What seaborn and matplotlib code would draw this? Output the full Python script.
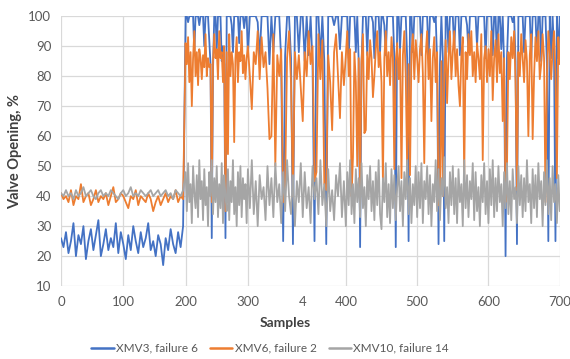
import matplotlib
matplotlib.use("Agg")
import matplotlib.pyplot as plt
from matplotlib.colors import to_hex
import numpy as np
import pandas as pd
import seaborn as sns

# sample index: every 4th sample before the fault, every 2nd after it
samples_pre = np.arange(0, 200, 4)
samples_post = np.arange(200, 701, 2)

series_names = ["XMV3, failure 6", "XMV6, failure 2", "XMV10, failure 14"]
colors = ["#4472C4", "#ED7D31", "#A5A5A5"]

# samples 0..196
blue_pre = [26, 23, 28, 21, 25, 31, 20, 27, 24, 30,
            19, 25, 29, 22, 27, 32, 20, 24, 29, 22,
            26, 23, 31, 21, 28, 24, 19, 27, 22, 30,
            25, 21, 28, 23, 26, 31, 22, 25, 20, 27,
            24, 17, 26, 22, 29, 24, 21, 28, 23, 30]
orange_pre = [41, 39, 40, 38, 42, 37, 40, 39, 44, 38,
              40, 41, 37, 39, 42, 38, 40, 39, 41, 37,
              40, 43, 38, 39, 41, 40, 38, 36, 40, 39,
              42, 37, 40, 39, 38, 41, 39, 35, 38, 40,
              37, 39, 41, 38, 40, 39, 42, 38, 40, 39]
gray_pre = [41, 40, 42, 40, 41, 39, 42, 40, 41, 43,
            40, 41, 42, 40, 39, 41, 42, 40, 41, 40,
            42, 41, 40, 39, 41, 42, 40, 41, 43, 40,
            41, 40, 42, 41, 40, 41, 42, 40, 41, 42,
            40, 41, 42, 40, 41, 39, 42, 41, 40, 42]

# samples 200..700, one row = 50 samples
blue_post = [
    100, 100, 98, 100, 100, 100, 100, 88, 100, 100, 100, 97, 100, 100, 100, 90, 100, 100, 100, 92, 84, 26, 82, 100, 100,
    89, 100, 100, 100, 85, 90, 84, 26, 100, 100, 100, 100, 97, 88, 100, 100, 100, 100, 91, 100, 100, 100, 96, 100, 100,
    87, 100, 100, 100, 100, 98, 86, 100, 100, 100, 100, 84, 100, 88, 100, 100, 100, 85, 25, 87, 100, 100, 86, 24, 100,
    100, 88, 100, 100, 85, 100, 87, 100, 84, 25, 100, 100, 86, 100, 85, 24, 100, 100, 100, 97, 100, 100, 89, 100, 100,
    100, 100, 86, 100, 100, 100, 100, 88, 100, 85, 23, 84, 100, 100, 100, 87, 100, 100, 100, 98, 86, 100, 100, 100, 88,
    100, 100, 97, 87, 100, 100, 100, 100, 100, 86, 23, 100, 100, 89, 100, 100, 100, 100, 86, 25, 100, 100, 88, 100, 100,
    100, 100, 100, 87, 100, 100, 100, 100, 86, 100, 100, 100, 98, 100, 85, 24, 84, 100, 86, 25, 100, 100, 88, 100, 100,
    100, 89, 100, 100, 100, 87, 100, 100, 100, 100, 97, 88, 100, 100, 100, 100, 100, 90, 100, 100, 100, 100, 100, 86, 100,
    100, 100, 100, 87, 100, 100, 85, 100, 100, 89, 100, 84, 20, 86, 100, 100, 100, 98, 100, 85, 24, 100, 100, 100, 100,
    88, 100, 100, 100, 100, 86, 100, 100, 100, 87, 100, 100, 85, 100, 100, 100, 84, 25, 100, 86, 100, 88, 25, 100, 86,
    100]
orange_post = [
    91, 84, 93, 78, 88, 70, 86, 95, 80, 88, 77, 89, 86, 79, 87, 83, 94, 80, 86, 83, 84, 38, 85, 94, 86,
    89, 79, 95, 86, 88, 78, 90, 35, 88, 54, 94, 80, 88, 84, 58, 86, 93, 78, 88, 85, 95, 81, 87, 79, 86,
    90, 80, 69, 88, 84, 95, 79, 93, 83, 88, 76, 59, 60, 94, 50, 87, 80, 89, 38, 44, 86, 95, 78, 40, 88,
    79, 87, 76, 65, 88, 80, 95, 84, 90, 45, 48, 94, 79, 92, 44, 42, 87, 78, 62, 88, 94, 80, 66, 88, 77,
    87, 95, 80, 89, 40, 53, 88, 78, 50, 86, 42, 85, 94, 61, 62, 88, 79, 92, 86, 73, 80, 89, 95, 83, 88,
    78, 45, 86, 95, 80, 88, 77, 93, 86, 49, 85, 91, 79, 89, 46, 87, 95, 80, 49, 84, 47, 88, 94, 79, 92,
    86, 78, 89, 94, 81, 51, 87, 95, 79, 89, 65, 86, 93, 78, 88, 37, 42, 85, 40, 80, 92, 71, 86, 95, 79,
    88, 95, 80, 89, 77, 70, 87, 93, 46, 88, 79, 94, 87, 95, 80, 88, 78, 91, 86, 79, 94, 52, 86, 90, 78,
    89, 80, 95, 72, 86, 92, 78, 94, 81, 88, 65, 86, 38, 49, 88, 79, 93, 86, 95, 78, 42, 88, 80, 94, 86,
    78, 92, 85, 60, 87, 94, 59, 80, 93, 85, 95, 79, 84, 94, 86, 38, 80, 95, 88, 79, 89, 95, 81, 46, 93,
    84]
gray_post = [
    48, 35, 51, 38, 44, 31, 50, 41, 36, 47, 33, 52, 39, 45, 32, 49, 37, 43, 30, 48, 40, 52, 34, 46, 38,
    50, 33, 44, 36, 51, 31, 47, 40, 35, 49, 32, 45, 38, 52, 34, 43, 30, 48, 37, 50, 33, 46, 39, 44, 31,
    49, 36, 52, 34, 45, 30, 47, 39, 43, 32, 50, 37, 46, 33, 51, 38, 44, 31, 48, 35, 52, 40, 34, 47, 30,
    45, 38, 51, 33, 48, 36, 43, 31, 50, 39, 46, 34, 52, 37, 44, 30, 49, 35, 42, 32, 47, 40, 51, 33, 45,
    30, 48, 37, 52, 34, 44, 31, 49, 38, 46, 33, 51, 36, 43, 30, 47, 39, 50, 35, 45, 32, 48, 37, 52, 34,
    29, 46, 38, 51, 33, 44, 31, 49, 36, 47, 32, 43, 50, 35, 45, 30, 48, 39, 52, 34, 46, 31, 44, 37, 50,
    33, 48, 36, 51, 31, 45, 39, 50, 34, 47, 30, 44, 38, 52, 35, 49, 32, 46, 40, 53, 36, 43, 31, 48, 37,
    50, 34, 46, 31, 49, 38, 44, 30, 52, 36, 47, 33, 45, 39, 51, 32, 48, 35, 43, 30, 47, 38, 51, 34, 45,
    31, 49, 37, 52, 33, 46, 35, 50, 38, 44, 30, 48, 36, 51, 34, 45, 32, 49, 39, 43, 31, 50, 37, 47, 33,
    46, 35, 52, 38, 44, 31, 49, 36, 47, 33, 51, 39, 45, 30, 48, 37, 52, 34, 46, 32, 50, 38, 44, 31, 47,
    35]

x_ticks = [0, 100, 200, 300, 400, 500, 600, 700]
x_ticklabels = ["0", "100", "200", "300", "400", "500", "600", "700"]
odd_tick = 356
odd_ticklabel = "4"
y_ticks = [10, 20, 30, 40, 50, 60, 70, 80, 90, 100]

# the x axis of the picture is stretched unevenly, keep that
x_knots = [0, 300, 400, 700]
px_knots = [0, 187, 285, 499]


def fwd(x):
    return np.interp(x, x_knots, px_knots)


def inv(p):
    return np.interp(p, px_knots, x_knots)


samples = np.concatenate([samples_pre, samples_post])
blue = blue_pre + blue_post
orange = orange_pre + orange_post
gray = gray_pre + gray_post
assert len(blue) == len(orange) == len(gray) == len(samples)

df = pd.DataFrame({
    "Samples": np.tile(samples, 3),
    "value": blue + orange + gray,
    "series": np.repeat(series_names, len(samples)),
})

sns.set_style("white")
plt.rcParams["font.family"] = ["Lato", "DejaVu Sans"]
txt = "#595959"
grid_c = "#d9d9d9"

fig, ax = plt.subplots(figsize=(5.7, 3.59), dpi=100)
fig.subplots_adjust(left=0.107, right=0.982, top=0.955, bottom=0.203)

sns.lineplot(data=df, x="Samples", y="value", hue="series",
             hue_order=series_names, palette=colors, linewidth=1.3,
             estimator=None, sort=False, ax=ax)

# excel order: later series on top
for line in ax.lines:
    c = to_hex(line.get_color()).upper()
    if c in colors:
        line.set_zorder(2 + colors.index(c))

ax.set_xscale("function", functions=(fwd, inv))
ax.set_xlim(0, 700)
ax.set_ylim(10, 100)
ax.set_xticks(x_ticks, labels=x_ticklabels)
ax.set_xticks([odd_tick], labels=[odd_ticklabel], minor=True)
ax.set_yticks(y_ticks)
ax.tick_params(which="both", length=0, labelsize=9.5, labelcolor=txt, pad=7)
ax.grid(True, which="major", color=grid_c, linewidth=0.9)
ax.set_axisbelow(True)
for s in ax.spines.values():
    s.set_visible(False)

ax.set_xlabel("Samples", fontsize=10, fontweight="bold", color="#404040")
ax.set_ylabel("Valve Opening, %", fontsize=10.5, fontweight="bold", color="#404040")
ax.xaxis.set_label_coords(0.449, -0.115)
ax.yaxis.set_label_coords(-0.078, 0.5)

handles, labels = ax.get_legend_handles_labels()
ax.get_legend().remove()
leg = fig.legend(handles, labels, loc="center", bbox_to_anchor=(0.474, 0.03),
                 ncol=3, frameon=False, fontsize=8.5, handlelength=1.9,
                 handletextpad=0.2, columnspacing=1.0)
for t in leg.get_texts():
    t.set_color(txt)
for h in leg.legend_handles:
    h.set_linewidth(1.8)

fig.savefig("out.png", dpi=100)
